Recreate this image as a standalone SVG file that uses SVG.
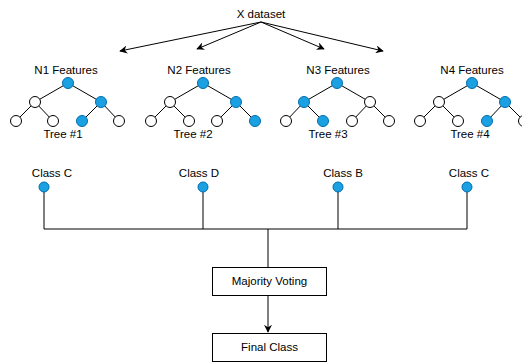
<svg xmlns="http://www.w3.org/2000/svg" width="522" height="363" viewBox="0 0 522 363">
<style>
text{font-family:"Liberation Sans",Arial,Helvetica,sans-serif;font-size:11.5px;fill:#000;text-anchor:middle}
.e{stroke:#000;stroke-width:1;fill:none}
.b{fill:#1ba1e2;stroke:#006eaf;stroke-width:1}
.w{fill:#fff;stroke:#000;stroke-width:1}
.box{fill:#fff;stroke:#000;stroke-width:1}
</style>
<defs>
<marker id="ah" viewBox="0 0 10 10" refX="9" refY="5" markerWidth="8" markerHeight="8" markerUnits="userSpaceOnUse" orient="auto">
<path d="M0,0 L10,5 L0,10 L3,5 Z" fill="#000"/>
</marker>
</defs>
<rect width="522" height="363" fill="#fff"/>
<g id="connectors">
<line class="e" x1="261" y1="22" x2="120" y2="51" marker-end="url(#ah)"/>
<line class="e" x1="261" y1="22" x2="197" y2="49" marker-end="url(#ah)"/>
<line class="e" x1="261" y1="22" x2="324" y2="49" marker-end="url(#ah)"/>
<line class="e" x1="261" y1="22" x2="383" y2="51" marker-end="url(#ah)"/>
<path class="e" d="M44,187V229M203,187V229M338,187V229M467,187V229M44,229H467M268,229V267"/>
<line class="e" x1="268" y1="295" x2="268" y2="332" marker-end="url(#ah)"/>
</g>
<g id="x-dataset"><text x="261" y="18">X dataset</text></g>
<g id="tree1">
<text x="66" y="74">N1 Features</text>
<path class="e" d="M68,83L35,102L16,121M35,102L53,121M68,83L101,102L82,121M101,102L119,121"/>
<circle class="b" cx="68" cy="83" r="5.5"/>
<circle class="w" cx="35" cy="102" r="5.5"/>
<circle class="b" cx="101" cy="102" r="5.5"/>
<circle class="w" cx="16" cy="121" r="5.5"/>
<circle class="w" cx="53" cy="121" r="5.5"/>
<circle class="b" cx="82" cy="121" r="5.5"/>
<circle class="w" cx="119" cy="121" r="5.5"/>
<text x="63" y="138">Tree #1</text>
</g>
<g id="tree2">
<text x="199" y="74">N2 Features</text>
<path class="e" d="M203,83L170,102L151,121M170,102L189,121M203,83L236,102L217,121M236,102L255,121"/>
<circle class="b" cx="203" cy="83" r="5.5"/>
<circle class="w" cx="170" cy="102" r="5.5"/>
<circle class="b" cx="236" cy="102" r="5.5"/>
<circle class="w" cx="151" cy="121" r="5.5"/>
<circle class="w" cx="189" cy="121" r="5.5"/>
<circle class="w" cx="217" cy="121" r="5.5"/>
<circle class="b" cx="255" cy="121" r="5.5"/>
<text x="193" y="138">Tree #2</text>
</g>
<g id="tree3">
<text x="338" y="74">N3 Features</text>
<path class="e" d="M337,83L304,102L286,121M304,102L323,121M337,83L370,102L352,121M370,102L389,121"/>
<circle class="b" cx="337" cy="83" r="5.5"/>
<circle class="b" cx="304" cy="102" r="5.5"/>
<circle class="w" cx="370" cy="102" r="5.5"/>
<circle class="w" cx="286" cy="121" r="5.5"/>
<circle class="b" cx="323" cy="121" r="5.5"/>
<circle class="w" cx="352" cy="121" r="5.5"/>
<circle class="w" cx="389" cy="121" r="5.5"/>
<text x="328" y="138">Tree #3</text>
</g>
<g id="tree4">
<text x="472" y="74">N4 Features</text>
<path class="e" d="M472,83L439,102L420,121M439,102L458,121M472,83L505,102L487,121M505,102L524,121"/>
<circle class="b" cx="472" cy="83" r="5.5"/>
<circle class="w" cx="439" cy="102" r="5.5"/>
<circle class="b" cx="505" cy="102" r="5.5"/>
<circle class="w" cx="420" cy="121" r="5.5"/>
<circle class="w" cx="458" cy="121" r="5.5"/>
<circle class="b" cx="487" cy="121" r="5.5"/>
<circle class="w" cx="524" cy="121" r="5.5"/>
<text x="470" y="138">Tree #4</text>
</g>
<g id="class1"><text x="52" y="177">Class C</text><circle class="b" cx="44" cy="187" r="5"/></g>
<g id="class2"><text x="199" y="177">Class D</text><circle class="b" cx="203" cy="187" r="5"/></g>
<g id="class3"><text x="343" y="177">Class B</text><circle class="b" cx="338" cy="187" r="5"/></g>
<g id="class4"><text x="469" y="177">Class C</text><circle class="b" cx="467" cy="187" r="5"/></g>
<g id="majority"><rect class="box" x="212.5" y="267.5" width="114" height="28"/><text x="269.5" y="285">Majority Voting</text></g>
<g id="final"><rect class="box" x="212.5" y="333.5" width="114" height="28"/><text x="269.5" y="351">Final Class</text></g>
</svg>
